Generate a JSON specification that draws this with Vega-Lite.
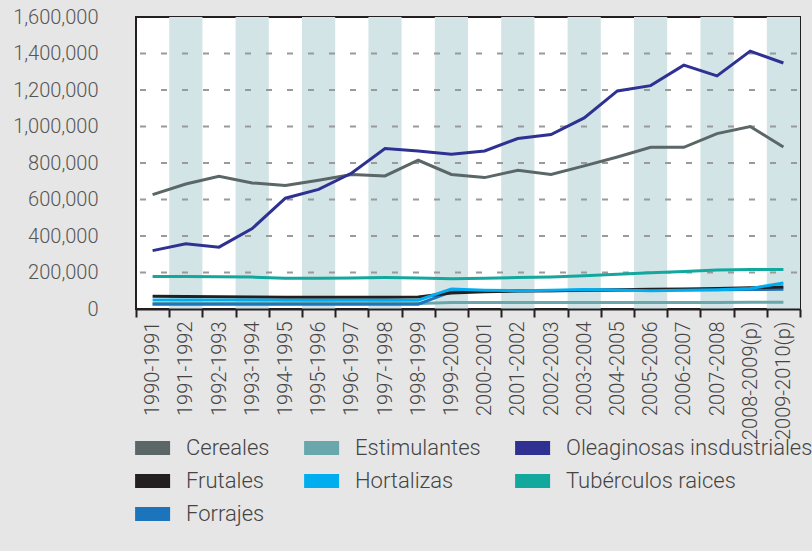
{
  "$schema": "https://vega.github.io/schema/vega-lite/v6.json",
  "width": 664,
  "height": 292,
  "padding": {"left": 12, "top": 7, "right": 12, "bottom": 26},
  "background": "#e6e6e6",
  "config": {
    "font": "Roboto",
    "view": {"fill": "white", "stroke": "#231f20", "strokeWidth": 2},
    "axis": {"labelFont": "Roboto", "labelFontWeight": 300, "title": null, "grid": false},
    "legend": {"labelFont": "Roboto", "labelFontWeight": 300}
  },
  "datasets": {
    "stripes": [
      {"p": "1991-1992"}, {"p": "1993-1994"}, {"p": "1995-1996"}, {"p": "1997-1998"}, {"p": "1999-2000"},
      {"p": "2001-2002"}, {"p": "2003-2004"}, {"p": "2005-2006"}, {"p": "2007-2008"}, {"p": "2009-2010(p)"}
    ],
    "grid": [{"v": 200000}, {"v": 400000}, {"v": 600000}, {"v": 800000}, {"v": 1000000}, {"v": 1200000}, {"v": 1400000}],
    "main": [
      {"p": "1990-1991", "s": "Estimulantes", "v": 30000},
      {"p": "1991-1992", "s": "Estimulantes", "v": 30000},
      {"p": "1992-1993", "s": "Estimulantes", "v": 30000},
      {"p": "1993-1994", "s": "Estimulantes", "v": 30000},
      {"p": "1994-1995", "s": "Estimulantes", "v": 30000},
      {"p": "1995-1996", "s": "Estimulantes", "v": 30000},
      {"p": "1996-1997", "s": "Estimulantes", "v": 30000},
      {"p": "1997-1998", "s": "Estimulantes", "v": 30000},
      {"p": "1998-1999", "s": "Estimulantes", "v": 30000},
      {"p": "1999-2000", "s": "Estimulantes", "v": 35000},
      {"p": "2000-2001", "s": "Estimulantes", "v": 35000},
      {"p": "2001-2002", "s": "Estimulantes", "v": 35000},
      {"p": "2002-2003", "s": "Estimulantes", "v": 35000},
      {"p": "2003-2004", "s": "Estimulantes", "v": 35000},
      {"p": "2004-2005", "s": "Estimulantes", "v": 36000},
      {"p": "2005-2006", "s": "Estimulantes", "v": 36000},
      {"p": "2006-2007", "s": "Estimulantes", "v": 36000},
      {"p": "2007-2008", "s": "Estimulantes", "v": 36000},
      {"p": "2008-2009(p)", "s": "Estimulantes", "v": 37000},
      {"p": "2009-2010(p)", "s": "Estimulantes", "v": 37000},

      {"p": "1990-1991", "s": "Forrajes", "v": 26000},
      {"p": "1991-1992", "s": "Forrajes", "v": 26000},
      {"p": "1992-1993", "s": "Forrajes", "v": 26000},
      {"p": "1993-1994", "s": "Forrajes", "v": 26000},
      {"p": "1994-1995", "s": "Forrajes", "v": 26000},
      {"p": "1995-1996", "s": "Forrajes", "v": 26000},
      {"p": "1996-1997", "s": "Forrajes", "v": 26000},
      {"p": "1997-1998", "s": "Forrajes", "v": 26000},
      {"p": "1998-1999", "s": "Forrajes", "v": 26000},
      {"p": "1999-2000", "s": "Forrajes", "v": 95000},
      {"p": "2000-2001", "s": "Forrajes", "v": 98000},
      {"p": "2001-2002", "s": "Forrajes", "v": 100000},
      {"p": "2002-2003", "s": "Forrajes", "v": 100000},
      {"p": "2003-2004", "s": "Forrajes", "v": 102000},
      {"p": "2004-2005", "s": "Forrajes", "v": 103000},
      {"p": "2005-2006", "s": "Forrajes", "v": 104000},
      {"p": "2006-2007", "s": "Forrajes", "v": 105000},
      {"p": "2007-2008", "s": "Forrajes", "v": 106000},
      {"p": "2008-2009(p)", "s": "Forrajes", "v": 107000},
      {"p": "2009-2010(p)", "s": "Forrajes", "v": 108000},

      {"p": "1990-1991", "s": "Frutales", "v": 70000},
      {"p": "1991-1992", "s": "Frutales", "v": 68000},
      {"p": "1992-1993", "s": "Frutales", "v": 67000},
      {"p": "1993-1994", "s": "Frutales", "v": 66000},
      {"p": "1994-1995", "s": "Frutales", "v": 65000},
      {"p": "1995-1996", "s": "Frutales", "v": 64000},
      {"p": "1996-1997", "s": "Frutales", "v": 64000},
      {"p": "1997-1998", "s": "Frutales", "v": 64000},
      {"p": "1998-1999", "s": "Frutales", "v": 66000},
      {"p": "1999-2000", "s": "Frutales", "v": 88000},
      {"p": "2000-2001", "s": "Frutales", "v": 95000},
      {"p": "2001-2002", "s": "Frutales", "v": 98000},
      {"p": "2002-2003", "s": "Frutales", "v": 100000},
      {"p": "2003-2004", "s": "Frutales", "v": 103000},
      {"p": "2004-2005", "s": "Frutales", "v": 106000},
      {"p": "2005-2006", "s": "Frutales", "v": 108000},
      {"p": "2006-2007", "s": "Frutales", "v": 110000},
      {"p": "2007-2008", "s": "Frutales", "v": 113000},
      {"p": "2008-2009(p)", "s": "Frutales", "v": 117000},
      {"p": "2009-2010(p)", "s": "Frutales", "v": 121000},

      {"p": "1990-1991", "s": "Hortalizas", "v": 50000},
      {"p": "1991-1992", "s": "Hortalizas", "v": 50000},
      {"p": "1992-1993", "s": "Hortalizas", "v": 49000},
      {"p": "1993-1994", "s": "Hortalizas", "v": 49000},
      {"p": "1994-1995", "s": "Hortalizas", "v": 48000},
      {"p": "1995-1996", "s": "Hortalizas", "v": 48000},
      {"p": "1996-1997", "s": "Hortalizas", "v": 48000},
      {"p": "1997-1998", "s": "Hortalizas", "v": 48000},
      {"p": "1998-1999", "s": "Hortalizas", "v": 48000},
      {"p": "1999-2000", "s": "Hortalizas", "v": 110000},
      {"p": "2000-2001", "s": "Hortalizas", "v": 103000},
      {"p": "2001-2002", "s": "Hortalizas", "v": 100000},
      {"p": "2002-2003", "s": "Hortalizas", "v": 103000},
      {"p": "2003-2004", "s": "Hortalizas", "v": 107000},
      {"p": "2004-2005", "s": "Hortalizas", "v": 104000},
      {"p": "2005-2006", "s": "Hortalizas", "v": 100000},
      {"p": "2006-2007", "s": "Hortalizas", "v": 103000},
      {"p": "2007-2008", "s": "Hortalizas", "v": 106000},
      {"p": "2008-2009(p)", "s": "Hortalizas", "v": 112000},
      {"p": "2009-2010(p)", "s": "Hortalizas", "v": 143000},

      {"p": "1990-1991", "s": "Tubérculos raices", "v": 178000},
      {"p": "1991-1992", "s": "Tubérculos raices", "v": 178000},
      {"p": "1992-1993", "s": "Tubérculos raices", "v": 177000},
      {"p": "1993-1994", "s": "Tubérculos raices", "v": 175000},
      {"p": "1994-1995", "s": "Tubérculos raices", "v": 168000},
      {"p": "1995-1996", "s": "Tubérculos raices", "v": 168000},
      {"p": "1996-1997", "s": "Tubérculos raices", "v": 170000},
      {"p": "1997-1998", "s": "Tubérculos raices", "v": 172000},
      {"p": "1998-1999", "s": "Tubérculos raices", "v": 170000},
      {"p": "1999-2000", "s": "Tubérculos raices", "v": 166000},
      {"p": "2000-2001", "s": "Tubérculos raices", "v": 168000},
      {"p": "2001-2002", "s": "Tubérculos raices", "v": 172000},
      {"p": "2002-2003", "s": "Tubérculos raices", "v": 175000},
      {"p": "2003-2004", "s": "Tubérculos raices", "v": 182000},
      {"p": "2004-2005", "s": "Tubérculos raices", "v": 190000},
      {"p": "2005-2006", "s": "Tubérculos raices", "v": 198000},
      {"p": "2006-2007", "s": "Tubérculos raices", "v": 205000},
      {"p": "2007-2008", "s": "Tubérculos raices", "v": 214000},
      {"p": "2008-2009(p)", "s": "Tubérculos raices", "v": 217000},
      {"p": "2009-2010(p)", "s": "Tubérculos raices", "v": 217000},

      {"p": "1990-1991", "s": "Cereales", "v": 627000},
      {"p": "1991-1992", "s": "Cereales", "v": 685000},
      {"p": "1992-1993", "s": "Cereales", "v": 727000},
      {"p": "1993-1994", "s": "Cereales", "v": 691000},
      {"p": "1994-1995", "s": "Cereales", "v": 677000},
      {"p": "1995-1996", "s": "Cereales", "v": 705000},
      {"p": "1996-1997", "s": "Cereales", "v": 737000},
      {"p": "1997-1998", "s": "Cereales", "v": 729000},
      {"p": "1998-1999", "s": "Cereales", "v": 815000},
      {"p": "1999-2000", "s": "Cereales", "v": 737000},
      {"p": "2000-2001", "s": "Cereales", "v": 720000},
      {"p": "2001-2002", "s": "Cereales", "v": 760000},
      {"p": "2002-2003", "s": "Cereales", "v": 737000},
      {"p": "2003-2004", "s": "Cereales", "v": 784000},
      {"p": "2004-2005", "s": "Cereales", "v": 833000},
      {"p": "2005-2006", "s": "Cereales", "v": 886000},
      {"p": "2006-2007", "s": "Cereales", "v": 886000},
      {"p": "2007-2008", "s": "Cereales", "v": 961000},
      {"p": "2008-2009(p)", "s": "Cereales", "v": 1000000},
      {"p": "2009-2010(p)", "s": "Cereales", "v": 888000},

      {"p": "1990-1991", "s": "Oleaginosas insdustriales", "v": 320000},
      {"p": "1991-1992", "s": "Oleaginosas insdustriales", "v": 357000},
      {"p": "1992-1993", "s": "Oleaginosas insdustriales", "v": 339000},
      {"p": "1993-1994", "s": "Oleaginosas insdustriales", "v": 441000},
      {"p": "1994-1995", "s": "Oleaginosas insdustriales", "v": 607000},
      {"p": "1995-1996", "s": "Oleaginosas insdustriales", "v": 655000},
      {"p": "1996-1997", "s": "Oleaginosas insdustriales", "v": 745000},
      {"p": "1997-1998", "s": "Oleaginosas insdustriales", "v": 879000},
      {"p": "1998-1999", "s": "Oleaginosas insdustriales", "v": 866000},
      {"p": "1999-2000", "s": "Oleaginosas insdustriales", "v": 848000},
      {"p": "2000-2001", "s": "Oleaginosas insdustriales", "v": 866000},
      {"p": "2001-2002", "s": "Oleaginosas insdustriales", "v": 934000},
      {"p": "2002-2003", "s": "Oleaginosas insdustriales", "v": 956000},
      {"p": "2003-2004", "s": "Oleaginosas insdustriales", "v": 1047000},
      {"p": "2004-2005", "s": "Oleaginosas insdustriales", "v": 1195000},
      {"p": "2005-2006", "s": "Oleaginosas insdustriales", "v": 1224000},
      {"p": "2006-2007", "s": "Oleaginosas insdustriales", "v": 1336000},
      {"p": "2007-2008", "s": "Oleaginosas insdustriales", "v": 1277000},
      {"p": "2008-2009(p)", "s": "Oleaginosas insdustriales", "v": 1413000},
      {"p": "2009-2010(p)", "s": "Oleaginosas insdustriales", "v": 1348000}
    ]
  },
  "layer": [
    {
      "data": {"name": "stripes"},
      "mark": {"type": "rect", "color": "#d3e4e6"},
      "encoding": {
        "x": {
          "field": "p", "type": "nominal", "sort": null,
          "scale": {"type": "band", "paddingInner": 0, "paddingOuter": 0,
            "domain": ["1990-1991","1991-1992","1992-1993","1993-1994","1994-1995","1995-1996","1996-1997","1997-1998","1998-1999","1999-2000","2000-2001","2001-2002","2002-2003","2003-2004","2004-2005","2005-2006","2006-2007","2007-2008","2008-2009(p)","2009-2010(p)"]},
          "axis": {
            "tickBand": "extent", "tickSize": 8, "tickWidth": 2, "tickColor": "#231f20",
            "domainColor": "#231f20", "domainWidth": 2,
            "labelAngle": -90, "labelAlign": "right", "labelBaseline": "middle",
            "labelFontSize": 20, "labelColor": "#444444", "labelPadding": 4, "labelOverlap": false
          }
        }
      }
    },
    {
      "data": {"name": "grid"},
      "mark": {"type": "rule", "color": "#9a9a9a", "strokeWidth": 2, "strokeDash": [6, 15], "strokeDashOffset": -3},
      "encoding": {
        "y": {
          "field": "v", "type": "quantitative",
          "scale": {"domain": [0, 1600000], "nice": false},
          "axis": {
            "values": [0, 200000, 400000, 600000, 800000, 1000000, 1200000, 1400000, 1600000],
            "format": ",.0f", "ticks": false, "domain": false, "labelPadding": 38, "labelOverlap": false,
            "labelFontSize": 20, "labelColor": "#555555"
          }
        }
      }
    },
    {
      "data": {"name": "main"},
      "mark": {"type": "line", "strokeWidth": 3},
      "encoding": {
        "x": {"field": "p", "type": "nominal", "sort": null, "bandPosition": 0.5},
        "y": {
          "field": "v", "type": "quantitative",
          "scale": {"domain": [0, 1600000], "nice": false},
          "axis": {
            "values": [0, 200000, 400000, 600000, 800000, 1000000, 1200000, 1400000, 1600000],
            "format": ",.0f", "ticks": false, "domain": false, "labelPadding": 38, "labelOverlap": false,
            "labelFontSize": 20, "labelColor": "#555555"
          }
        },
        "color": {
          "field": "s", "type": "nominal",
          "scale": {
            "domain": ["Cereales", "Estimulantes", "Oleaginosas insdustriales", "Frutales", "Hortalizas", "Tubérculos raices", "Forrajes"],
            "range": ["#5b6667", "#6aa7ac", "#2e3192", "#231f20", "#00aeef", "#13a89e", "#1c75bc"]
          },
          "legend": {
            "orient": "bottom", "columns": 3, "title": null,
            "symbolType": "M-1.7,-1H3.3V1H-1.7Z", "symbolSize": 196, "symbolStrokeWidth": 0,
            "labelFontSize": 22, "labelColor": "#444444", "labelOffset": 28, "labelLimit": 400,
            "rowPadding": 11, "columnPadding": 34, "offset": -3,
            "encode": {"symbols": {"update": {"fill": {"scale": "color", "field": "value"}, "strokeWidth": {"value": 0}}}}
          }
        }
      }
    }
  ]
}
